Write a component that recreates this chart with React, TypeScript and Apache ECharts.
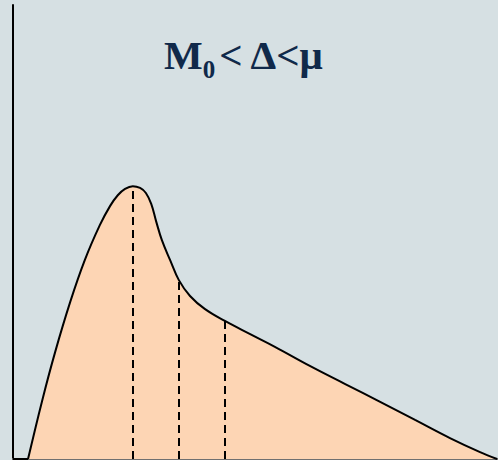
import React, { useEffect, useRef } from "react";
import * as echarts from "echarts";

// Density curve (x: 0..100 along the axis, y: 0..100 density units)
const curveX = [3.1, 6.0, 8.7, 11.8, 14.8, 17.9, 20.0, 21.6, 23.1, 24.7, 26.2, 27.4, 28.5, 29.5, 30.7, 32.4, 34.2, 36.5, 39.6, 43.7, 48.9, 54.0, 61.2, 68.5, 75.7, 82.9, 90.1, 96.3, 99.8];
const curveY = [0, 12.8, 23.6, 34.6, 43.8, 51.5, 55.7, 58.1, 59.5, 60.1, 59.7, 58.6, 56.2, 52.4, 48.2, 43.8, 39.4, 35.9, 33.0, 30.4, 27.5, 24.7, 20.5, 16.5, 12.6, 8.6, 4.6, 1.5, 0];

// Baseline segment before the curve starts
const baseX = [0, 3.1];
const baseY = [0, 0];

// Mode, median, mean positions and curve height there
const markNames = ["M0", "Δ", "μ"];
const markX = [24.7, 34.2, 43.7];
const markY = [60.1, 39.4, 30.4];

export default function App() {
  const ref = useRef<HTMLDivElement>(null);
  useEffect(() => {
    if (!ref.current) return;
    const chart = echarts.init(ref.current, undefined, { renderer: "svg" });
    chart.setOption({
      animation: false,
      backgroundColor: "#d6e0e3",
      title: {
        text: "{m|M}{s|0}{m|< Δ<μ}",
        left: 164,
        top: 35,
        padding: 0,
        textStyle: {
          rich: {
            m: {
              fontFamily: "Liberation Serif",
              fontSize: 41,
              fontWeight: "bold",
              color: "#10294a",
              lineHeight: 40,
            },
            s: {
              fontFamily: "Liberation Serif",
              fontSize: 25,
              fontWeight: "bold",
              color: "#10294a",
              lineHeight: 24,
              padding: [29, 4, 0, 0],
            },
          },
        },
      },
      grid: { left: 13, right: 0, top: 5, bottom: 1 },
      xAxis: {
        type: "value",
        min: 0,
        max: 100,
        axisLine: { show: true, lineStyle: { color: "#707070", width: 2 } },
        axisTick: { show: false },
        axisLabel: { show: false },
        splitLine: { show: false },
      },
      yAxis: {
        type: "value",
        min: 0,
        max: 100,
        axisLine: { show: true, lineStyle: { color: "#000", width: 2 } },
        axisTick: { show: false },
        axisLabel: { show: false },
        splitLine: { show: false },
      },
      series: [
        {
          type: "line",
          data: curveX.map((x, i) => [x, curveY[i]]),
          smooth: 0.4,
          symbol: "none",
          lineStyle: { color: "#000", width: 2 },
          areaStyle: { color: "#fdd5b4", opacity: 1 },
          z: 2,
          markLine: {
            silent: true,
            symbol: ["none", "none"],
            label: { show: false },
            lineStyle: { color: "#000", width: 2, type: [8, 5] },
            data: markX.map((x, i) => [
              { name: markNames[i], coord: [x, 0] },
              { coord: [x, markY[i]] },
            ]),
          },
        },
        {
          type: "line",
          data: baseX.map((x, i) => [x, baseY[i]]),
          symbol: "none",
          lineStyle: { color: "#000", width: 2 },
          z: 3,
        },
      ],
    });
    return () => chart.dispose();
  }, []);
  return (
    <div
      ref={ref}
      style={{ position: "fixed", left: 0, top: 0, width: 498, height: 460 }}
    />
  );
}
